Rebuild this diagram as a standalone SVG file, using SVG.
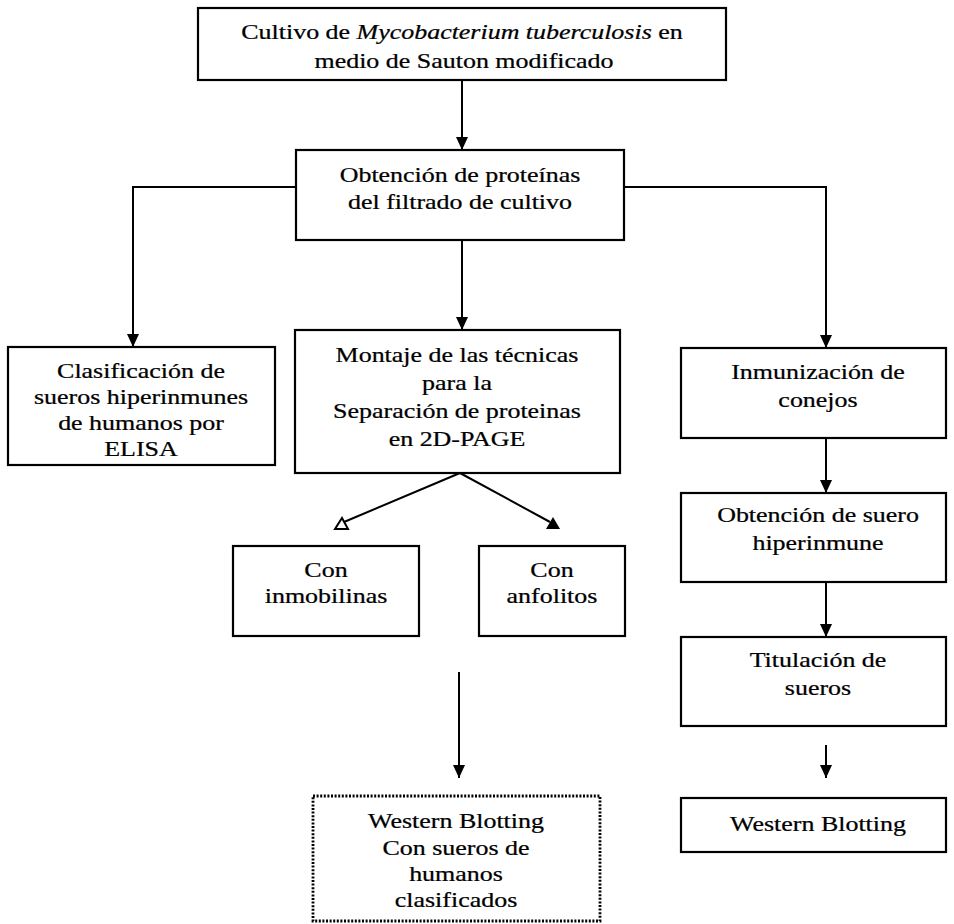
<svg xmlns="http://www.w3.org/2000/svg" width="954" height="924" viewBox="0 0 954 924">
<style>
.box{fill:#fff;stroke:#000;stroke-width:2.2}
.dot{fill:#fff;stroke:#000;stroke-width:2.8;stroke-dasharray:2 1.6}
.t{font-family:"Liberation Serif","Times New Roman",serif;font-size:22px;fill:#000;stroke:#000;stroke-width:0.25;text-anchor:middle}
.ln{fill:none;stroke:#000;stroke-width:2}
</style>
<defs>
<marker id="ah" markerUnits="userSpaceOnUse" markerWidth="14" markerHeight="14" refX="13" refY="6" orient="auto">
<path d="M0,0 L13,6 L0,12 z" fill="#000"/>
</marker>
</defs>
<rect width="954" height="924" fill="#fff"/>
<g id="connectors">
<line class="ln" x1="462" y1="80" x2="462" y2="150" marker-end="url(#ah)"/>
<polyline class="ln" points="296,187 133,187 133,347" marker-end="url(#ah)"/>
<polyline class="ln" points="624,187 826,187 826,348" marker-end="url(#ah)"/>
<line class="ln" x1="462" y1="240" x2="462" y2="330" marker-end="url(#ah)"/>
<line class="ln" x1="826" y1="438" x2="826" y2="493" marker-end="url(#ah)"/>
<line class="ln" x1="826" y1="582" x2="826" y2="637" marker-end="url(#ah)"/>
<line class="ln" x1="826" y1="745" x2="826" y2="778" marker-end="url(#ah)"/>
<line class="ln" x1="460" y1="473" x2="344" y2="522"/>
<line class="ln" x1="460" y1="473" x2="550" y2="522"/>
<polygon points="335,529 348,529 342,518" fill="#fff" stroke="#000" stroke-width="2"/>
<polygon points="546,529 560,529 553,517" fill="#000"/>
<line class="ln" x1="459" y1="672" x2="459" y2="778" marker-end="url(#ah)"/>
</g>
<g id="n1">
<rect class="box" x="198" y="8" width="528" height="72"/>
<text class="t" transform="translate(462,39) scale(1.18,1)">Cultivo de <tspan font-style="italic">Mycobacterium tuberculosis</tspan> en</text>
<text class="t" transform="translate(464,68) scale(1.18,1)">medio de Sauton modificado</text>
</g>
<g id="n2">
<rect class="box" x="296" y="150" width="328" height="90"/>
<text class="t" transform="translate(460,182) scale(1.18,1)">Obtención de proteínas</text>
<text class="t" transform="translate(460,209) scale(1.18,1)">del filtrado de cultivo</text>
</g>
<g id="n3">
<rect class="box" x="8" y="347" width="267" height="118"/>
<text class="t" transform="translate(141,378) scale(1.18,1)">Clasificación de</text>
<text class="t" transform="translate(141,404) scale(1.18,1)">sueros hiperinmunes</text>
<text class="t" transform="translate(141,430) scale(1.18,1)">de humanos por</text>
<text class="t" transform="translate(141,456) scale(1.18,1)">ELISA</text>
</g>
<g id="n4">
<rect class="box" x="295" y="330" width="325" height="143"/>
<text class="t" transform="translate(457,362) scale(1.18,1)">Montaje de las técnicas</text>
<text class="t" transform="translate(457,390) scale(1.18,1)">para la</text>
<text class="t" transform="translate(457,418) scale(1.18,1)">Separación de proteinas</text>
<text class="t" transform="translate(457,446) scale(1.18,1)">en 2D-PAGE</text>
</g>
<g id="n5">
<rect class="box" x="681" y="348" width="265" height="90"/>
<text class="t" transform="translate(818,379) scale(1.18,1)">Inmunización de</text>
<text class="t" transform="translate(818,407) scale(1.18,1)">conejos</text>
</g>
<g id="n6">
<rect class="box" x="681" y="493" width="265" height="89"/>
<text class="t" transform="translate(818,522) scale(1.18,1)">Obtención de suero</text>
<text class="t" transform="translate(818,550) scale(1.18,1)">hiperinmune</text>
</g>
<g id="n7">
<rect class="box" x="681" y="637" width="265" height="89"/>
<text class="t" transform="translate(818,667) scale(1.18,1)">Titulación de</text>
<text class="t" transform="translate(818,695) scale(1.18,1)">sueros</text>
</g>
<g id="n8">
<rect class="box" x="681" y="798" width="265" height="54"/>
<text class="t" transform="translate(818,831) scale(1.18,1)">Western Blotting</text>
</g>
<g id="n9">
<rect class="box" x="233" y="546" width="186" height="90"/>
<text class="t" transform="translate(326,577) scale(1.18,1)">Con</text>
<text class="t" transform="translate(326,603) scale(1.18,1)">inmobilinas</text>
</g>
<g id="n10">
<rect class="box" x="479" y="546" width="146" height="90"/>
<text class="t" transform="translate(552,577) scale(1.18,1)">Con</text>
<text class="t" transform="translate(552,603) scale(1.18,1)">anfolitos</text>
</g>
<g id="n11">
<rect class="dot" x="313" y="796" width="287" height="125"/>
<text class="t" transform="translate(456,828) scale(1.18,1)">Western Blotting</text>
<text class="t" transform="translate(456,855) scale(1.18,1)">Con sueros de</text>
<text class="t" transform="translate(456,881) scale(1.18,1)">humanos</text>
<text class="t" transform="translate(456,907) scale(1.18,1)">clasificados</text>
</g>
</svg>
